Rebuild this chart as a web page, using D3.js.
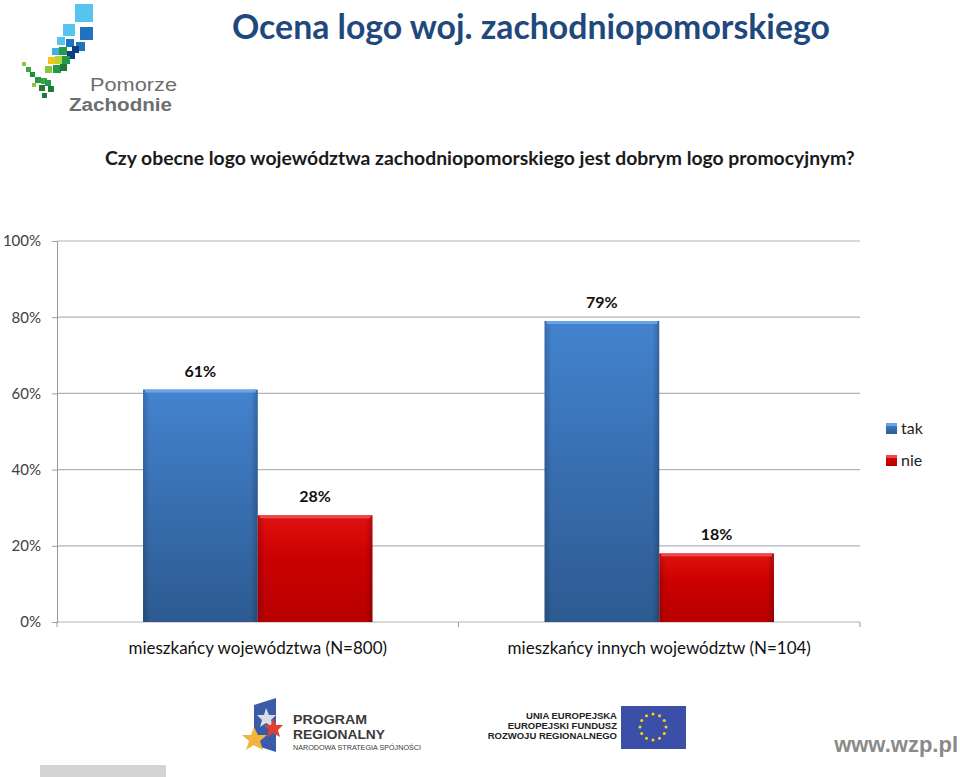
<!DOCTYPE html>
<html>
<head>
<meta charset="utf-8">
<script src="https://cdn.jsdelivr.net/npm/d3@7"></script>
<style>
  body { margin: 0; background: #fff; }
  svg { display: block; }
</style>
</head>
<body>
<div id="chart"></div>
<script>
// dane z wykresu
const categories = ["mieszkańcy województwa (N=800)", "mieszkańcy innych województw (N=104)"];
const seriesNames = ["tak", "nie"];
const takValues = [61, 79];
const nieValues = [28, 18];
const yTicks = [0, 20, 40, 60, 80, 100];

const width = 960, height = 777;
const margin = {top: 241, right: 100, bottom: 155, left: 57};

const svg = d3.select("#chart").append("svg")
    .attr("width", width)
    .attr("height", height)
    .style("font-family", "Lato, 'Open Sans', sans-serif");

// dopasowanie szerokości tekstu (Calibri nie jest dostępne)
function fitWidth(sel, w) {
  const l = sel.node().getComputedTextLength();
  const fs = parseFloat(sel.style("font-size"));
  sel.style("font-size", (fs * w / l) + "px");
}

// gradienty słupków
const defs = svg.append("defs");
const grads = {
  tak: ["#4383cf", "#3a72b6", "#2d5a91"],
  nie: ["#e01010", "#cc0000", "#b80000"]
};
Object.entries(grads).forEach(([k, c]) => {
  const g = defs.append("linearGradient").attr("id", "g-" + k)
      .attr("x1", 0).attr("x2", 0).attr("y1", 0).attr("y2", 1);
  g.append("stop").attr("offset", "0%").attr("stop-color", c[0]);
  g.append("stop").attr("offset", "40%").attr("stop-color", c[1]);
  g.append("stop").attr("offset", "100%").attr("stop-color", c[2]);
  const h = defs.append("linearGradient").attr("id", "h-" + k)
      .attr("x1", 0).attr("x2", 1).attr("y1", 0).attr("y2", 0);
  h.append("stop").attr("offset", "0%").attr("stop-color", "#000").attr("stop-opacity", 0.18);
  h.append("stop").attr("offset", "6%").attr("stop-color", "#000").attr("stop-opacity", 0);
  h.append("stop").attr("offset", "94%").attr("stop-color", "#000").attr("stop-opacity", 0);
  h.append("stop").attr("offset", "100%").attr("stop-color", "#000").attr("stop-opacity", 0.22);
});

// nagłówek
const title = svg.append("text")
    .attr("x", 232).attr("y", 39)
    .style("font-size", "31px")
    .style("font-weight", "bold")
    .attr("fill", "#1f497d")
    .text("Ocena logo woj. zachodniopomorskiego");
fitWidth(title, 598);

const sub = svg.append("text")
    .attr("x", 105).attr("y", 165)
    .style("font-size", "20px")
    .style("font-weight", "bold")
    .attr("fill", "#1a1a1a")
    .text("Czy obecne logo województwa zachodniopomorskiego jest dobrym logo promocyjnym?");
fitWidth(sub, 750);

// logo Pomorze Zachodnie (uproszczone)
const logoSquares = [
  [75, 4, 18, "#55c5ee"], [63, 24, 12, "#55c5ee"], [80, 27, 13, "#1f72c0"], [57, 37, 8, "#55c5ee"],
  [66, 39, 8, "#1f72c0"], [76, 42, 9, "#1f72c0"], [72, 46, 7, "#0e3f85"], [52, 48, 7, "#3fb0e0"],
  [59, 47, 8, "#229a4a"], [67, 51, 8, "#0e3f85"], [48, 57, 7, "#f5c518"], [55, 56, 8, "#b7d334"],
  [62, 56, 8, "#229a4a"], [45, 66, 7, "#8cc63f"], [53, 65, 8, "#229a4a"], [60, 64, 7, "#1f7a38"],
  [22, 62, 4, "#8cc63f"], [26, 67, 5, "#3fa535"], [30, 72, 5, "#1f8f3e"], [35, 77, 6, "#229a4a"],
  [41, 78, 6, "#3fa535"], [39, 85, 6, "#1f7a38"], [45, 80, 6, "#229a4a"], [48, 86, 6, "#1f7a38"],
  [42, 93, 5, "#1f7a38"], [32, 83, 4, "#8cc63f"]
];
svg.append("g").selectAll("rect").data(logoSquares).join("rect")
    .attr("x", d => d[0]).attr("y", d => d[1])
    .attr("width", d => d[2]).attr("height", d => d[2])
    .attr("fill", d => d[3]);
svg.append("text").attr("x", 90).attr("y", 91)
    .style("font-family", "'Liberation Sans', sans-serif").style("font-size", "18px")
    .attr("textLength", 87).attr("lengthAdjust", "spacingAndGlyphs")
    .attr("fill", "#6d6e70").text("Pomorze");
svg.append("text").attr("x", 69).attr("y", 111)
    .style("font-family", "'Liberation Sans', sans-serif").style("font-size", "18px")
    .attr("textLength", 103).attr("lengthAdjust", "spacingAndGlyphs")
    .style("font-weight", "bold").attr("fill", "#6d6e70").text("Zachodnie");

// skale
const x0 = d3.scaleBand()
    .domain(categories)
    .range([margin.left, width - margin.right])
    .paddingInner(0)
    .paddingOuter(0);
const x1 = d3.scaleBand()
    .domain(seriesNames)
    .range([0, x0.bandwidth()])
    .paddingOuter(0.75)
    .paddingInner(0);
const y = d3.scaleLinear()
    .domain([0, 100])
    .range([height - margin.bottom, margin.top]);

// siatka
svg.append("g").selectAll("line").data(yTicks).join("line")
    .attr("x1", margin.left).attr("x2", width - margin.right)
    .attr("y1", d => y(d)).attr("y2", d => y(d))
    .attr("stroke", "#b3b3b3").attr("stroke-width", 1.2);

// oś Y
const yAxis = svg.append("g")
    .attr("transform", `translate(${margin.left},0)`)
    .call(d3.axisLeft(y).tickValues(yTicks).tickFormat(d => d + "%").tickSize(5).tickPadding(11));
yAxis.select(".domain").attr("stroke", "#999");
yAxis.selectAll(".tick line").attr("stroke", "#999");
yAxis.selectAll("text").style("font-size", "15px").attr("fill", "#404040")
    .style("font-family", "Lato, sans-serif");

// oś X
const xAxis = svg.append("g")
    .attr("transform", `translate(0,${y(0)})`)
    .call(d3.axisBottom(x0).tickSize(0).tickPadding(20));
xAxis.select(".domain").remove();
xAxis.selectAll("text").style("font-size", "17px").attr("fill", "#111")
    .style("font-family", "Lato, sans-serif");
xAxis.selectAll(".sep").data([0, 1, 2]).join("line")
    .attr("x1", i => margin.left + i * x0.bandwidth())
    .attr("x2", i => margin.left + i * x0.bandwidth())
    .attr("y1", 0).attr("y2", 5)
    .attr("stroke", "#999");

// słupki
const rows = categories.map((c, i) => ({cat: c, vals: [
  {key: "tak", v: takValues[i]}, {key: "nie", v: nieValues[i]}
]}));
const groups = svg.append("g").selectAll("g").data(rows).join("g")
    .attr("transform", d => `translate(${x0(d.cat)},0)`);
const bars = groups.selectAll("g").data(d => d.vals).join("g");
bars.append("rect")
    .attr("x", d => x1(d.key)).attr("y", d => y(d.v))
    .attr("width", x1.bandwidth()).attr("height", d => y(0) - y(d.v))
    .attr("fill", d => `url(#g-${d.key})`);
bars.append("rect")
    .attr("x", d => x1(d.key)).attr("y", d => y(d.v))
    .attr("width", x1.bandwidth()).attr("height", d => y(0) - y(d.v))
    .attr("fill", d => `url(#h-${d.key})`);
bars.append("rect")
    .attr("x", d => x1(d.key) + 2).attr("y", d => y(d.v))
    .attr("width", x1.bandwidth() - 4).attr("height", 3)
    .attr("fill", d => d.key === "tak" ? "#6aa4e6" : "#f04848");
bars.append("text")
    .attr("x", d => x1(d.key) + x1.bandwidth() / 2)
    .attr("y", d => y(d.v) - 13)
    .attr("text-anchor", "middle")
    .style("font-size", "16px").style("font-weight", "bold")
    .attr("fill", "#111")
    .text(d => d.v + "%");

// legenda
const legend = svg.append("g").attr("transform", "translate(886,423)");
seriesNames.forEach((s, i) => {
  const g = legend.append("g").attr("transform", `translate(0,${i * 32})`);
  g.append("rect").attr("width", 11).attr("height", 11).attr("fill", `url(#g-${s})`);
  g.append("rect").attr("width", 11).attr("height", 3).attr("fill", s === "tak" ? "#6aa4e6" : "#f04848");
  g.append("text").attr("x", 15).attr("y", 11)
      .style("font-size", "16px").attr("fill", "#222").text(s);
});

// stopka - logotypy
const foot = svg.append("g");
foot.append("path").attr("d", "M254,705 L276,698 L276,752 L254,745 Z").attr("fill", "#3a5ca8");
foot.append("path").attr("d", "M266,708 l3,7 7,0 -5,5 2,7 -7,-4 -6,4 2,-7 -5,-5 7,0 z").attr("fill", "#d8dde8");
foot.append("path").attr("d", "M273,718 l3,7 7,0 -5,5 2,7 -7,-4 -6,4 2,-7 -5,-5 7,0 z").attr("fill", "#e0402e");
foot.append("path").attr("d", "M254,727 l4,8 9,0 -7,6 3,9 -9,-5 -8,5 3,-9 -7,-6 9,0 z").attr("fill", "#f3b33d");
foot.append("text").attr("x", 293).attr("y", 724)
    .style("font-family", "'Liberation Sans', sans-serif").style("font-size", "13px").style("font-weight", "bold")
    .attr("textLength", 74).attr("lengthAdjust", "spacingAndGlyphs")
    .attr("fill", "#3a3a3a").text("PROGRAM");
foot.append("text").attr("x", 293).attr("y", 739)
    .style("font-family", "'Liberation Sans', sans-serif").style("font-size", "13px").style("font-weight", "bold")
    .attr("textLength", 92).attr("lengthAdjust", "spacingAndGlyphs")
    .attr("fill", "#3a3a3a").text("REGIONALNY");
foot.append("text").attr("x", 293).attr("y", 750)
    .style("font-family", "'Liberation Sans', sans-serif").style("font-size", "6.5px")
    .attr("textLength", 128).attr("lengthAdjust", "spacingAndGlyphs")
    .attr("fill", "#3a3a3a").text("NARODOWA STRATEGIA SPÓJNOŚCI");
["UNIA EUROPEJSKA", "EUROPEJSKI FUNDUSZ", "ROZWOJU REGIONALNEGO"].forEach((t, i) => {
  foot.append("text").attr("x", 617).attr("y", 719 + i * 10)
      .attr("text-anchor", "end")
      .style("font-family", "'Liberation Sans', Arial, sans-serif").style("font-size", "9.5px").style("font-weight", "bold")
      .attr("fill", "#222").text(t);
});
foot.append("rect").attr("x", 621).attr("y", 706).attr("width", 65).attr("height", 43).attr("fill", "#3b4ea8");
d3.range(12).forEach(i => {
  const a = i / 12 * 2 * Math.PI;
  foot.append("circle").attr("cx", 653 + 13 * Math.cos(a)).attr("cy", 727 + 13 * Math.sin(a))
      .attr("r", 1.5).attr("fill", "#f5d90a");
});
foot.append("text").attr("x", 958).attr("y", 752).attr("text-anchor", "end")
    .style("font-family", "'Liberation Sans', Arial, sans-serif").style("font-size", "22px").style("font-weight", "bold")
    .attr("fill", "#8a8a8a").text("www.wzp.pl");
foot.append("rect").attr("x", 40).attr("y", 765).attr("width", 126).attr("height", 12).attr("fill", "#d4d4d4");
</script>
</body>
</html>
